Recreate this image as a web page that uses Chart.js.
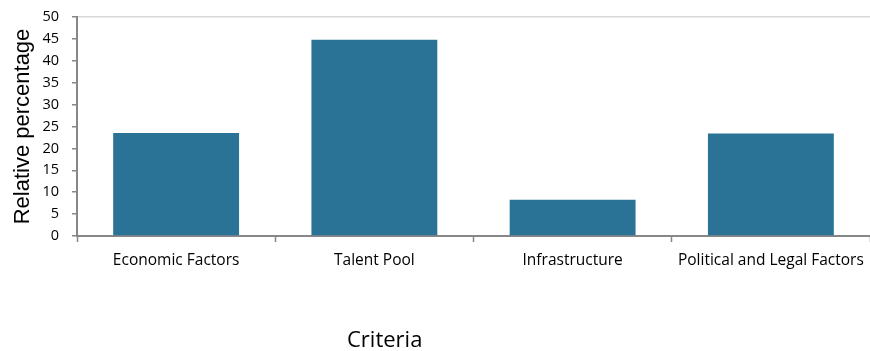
<!DOCTYPE html>
<html>
<head>
<meta charset="utf-8">
<script src="https://cdn.jsdelivr.net/npm/chart.js@4/dist/chart.umd.min.js"></script>
<style>
  html, body { margin: 0; padding: 0; background: #fff; }
  #wrap { width: 870px; height: 351px; position: relative; }
</style>
</head>
<body>
<div id="wrap"><canvas id="chart"></canvas></div>
<script>
// Criteria and their relative share (%)
const categories = ['Economic Factors', 'Talent Pool', 'Infrastructure', 'Political and Legal Factors'];
const relativePercentage = [23.5, 44.8, 8.3, 23.4];
const yAxisMin = 0;
const yAxisMax = 50;
const yAxisStep = 5;
const xAxisTitle = 'Criteria';
const yAxisTitle = 'Relative percentage';

const axisGray = '#878787';

// Draws the x-axis caption below the category labels
const xCaption = {
  id: 'xCaption',
  afterDraw(chart) {
    const { ctx, chartArea } = chart;
    ctx.save();
    ctx.font = '22px "Open Sans", sans-serif';
    ctx.fillStyle = '#000';
    ctx.textAlign = 'center';
    ctx.textBaseline = 'middle';
    const x = chartArea.left + (chartArea.right - chartArea.left) * 0.388;
    ctx.fillText(xAxisTitle, x, chart.height - 10);
    ctx.restore();
  }
};

new Chart(document.getElementById('chart'), {
  type: 'bar',
  data: {
    labels: categories,
    datasets: [{
      data: relativePercentage,
      backgroundColor: '#2a7396',
      borderWidth: 0,
      barPercentage: 0.635,
      categoryPercentage: 1.0
    }]
  },
  options: {
    responsive: true,
    maintainAspectRatio: false,
    animation: false,
    layout: { padding: { top: 17, right: 0, bottom: 0, left: 0 } },
    plugins: {
      legend: { display: false },
      tooltip: { enabled: false }
    },
    scales: {
      x: {
        offset: true,
        grid: {
          offset: true,
          drawOnChartArea: false,
          tickLength: 6,
          tickColor: axisGray,
          tickWidth: 1.5
        },
        border: { color: axisGray, width: 2 },
        ticks: {
          color: '#000',
          font: { family: '"Open Sans", sans-serif', size: 15.5 },
          padding: 9,
          maxRotation: 0,
          autoSkip: false
        },
        afterFit(scale) {
          scale.height = 115;
          scale.paddingLeft = 0;
          scale.paddingRight = 0;
        }
      },
      y: {
        min: yAxisMin,
        max: yAxisMax,
        ticks: {
          stepSize: yAxisStep,
          color: '#000',
          font: { family: '"Open Sans", sans-serif', size: 14.5 },
          padding: 13
        },
        grid: {
          color: (c) => (c.tick && c.tick.value === yAxisMax ? '#d9d9d9' : 'rgba(0,0,0,0)'),
          lineWidth: 1.5,
          tickLength: 5,
          tickColor: axisGray,
          tickWidth: 1.5
        },
        border: { color: axisGray, width: 2 },
        title: {
          display: true,
          text: yAxisTitle,
          color: '#000',
          font: { family: '"Liberation Sans", Arial, sans-serif', size: 22 },
          padding: { top: 10, bottom: 0 }
        },
        afterFit(scale) {
          scale.width = 77;
          scale.paddingTop = 0;
          scale.paddingBottom = 0;
        }
      }
    }
  },
  plugins: [xCaption]
});
</script>
</body>
</html>
